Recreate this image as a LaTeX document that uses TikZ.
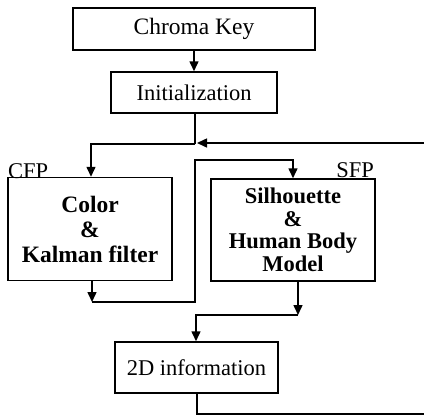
\documentclass[tikz,border=0pt]{standalone}
\usepackage{fontspec}
\setmainfont{Liberation Serif}
\usetikzlibrary{arrows.meta}
\begin{document}
\begin{tikzpicture}[x=1pt,y=-1pt,
  box/.style={draw,line width=1.5pt,inner sep=0pt,align=center,font=\fontsize{22.5}{24}\selectfont},
  lbl/.style={inner sep=0pt,font=\fontsize{22.5}{24}\selectfont},
  conn/.style={line width=1.5pt},
  arr/.style={conn,-{Triangle[length=10pt,width=9pt]}}]
\useasboundingbox (0,0) rectangle (424,416);
\node[box,minimum width=242pt,minimum height=42pt,font=\fontsize{23.5}{24}\selectfont] (ck) at (194,29) {Chroma Key};
\node[box,minimum width=166pt,minimum height=41pt] (init) at (194,92.5) {Initialization};
\node[box,minimum width=164pt,minimum height=103pt,font=\bfseries\fontsize{23.5}{25}\selectfont] (cfp) at (90,229) {Color\\\&\\Kalman filter};
\node[box,minimum width=164pt,minimum height=102pt,font=\bfseries\fontsize{22.5}{22.5}\selectfont] (sfp) at (293,230) {Silhouette\\\&\\Human Body\\Model};
\node[box,minimum width=163pt,minimum height=51pt] (info) at (196.5,367.5) {2D information};
\node[lbl,anchor=base west] (cfpl) at (8,178) {CFP};
\node[lbl,anchor=base east] (sfpl) at (374,177) {SFP};
% junctions
\coordinate (j1) at (195,144);
\coordinate (rt) at (424,143);
\coordinate (rb) at (424,414);
\coordinate (c1) at (92,302);
\coordinate (s1) at (298,315);
% connectors
\draw[arr] (ck.south) -- (init.north);
\draw[conn] (init.south -| j1) -- (j1);
\draw[arr] (j1) -| (cfp.north -| 91,0);
\draw[arr] (rt) -- (197,143);
\draw[arr] (cfp.south -| c1) -- (c1);
\draw[arr] (c1) -- (195,302) |- (293,160) -- (sfp.north -| 293,0);
\draw[arr] (sfp.south -| s1) -- (s1);
\draw[arr] (s1) -| (info.north -| 196,0);
\draw[conn] (info.south -| 197,0) |- (rb);
\end{tikzpicture}
\end{document}
